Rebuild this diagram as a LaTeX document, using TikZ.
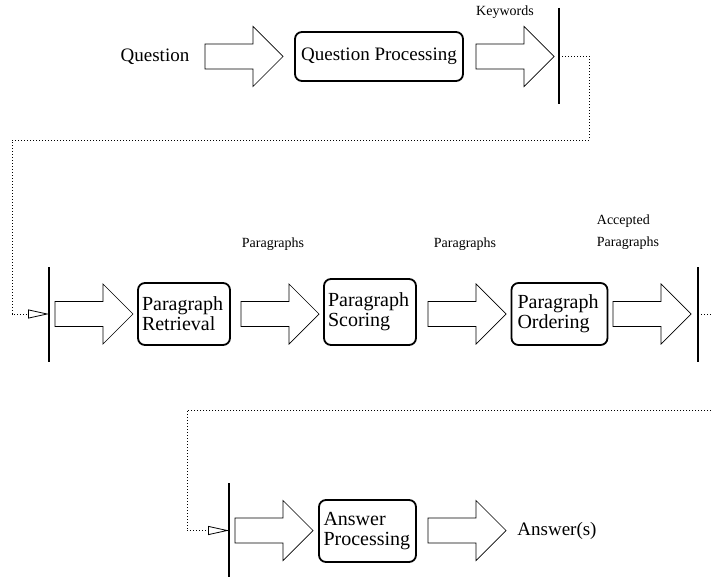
\documentclass[tikz,border=0pt]{standalone}
\usepackage{fontspec}
\setmainfont{Liberation Serif}
\usetikzlibrary{arrows.meta}
\tikzset{
  procbox/.style={draw, line width=1.8pt, rounded corners=7pt, align=left, inner sep=0pt, font=\rmfamily\fontsize{20}{20}\selectfont},
  bigtext/.style={font=\rmfamily\fontsize{19}{21}\selectfont, inner sep=0pt},
  smalltext/.style={font=\rmfamily\fontsize{14}{22}\selectfont, inner sep=0pt, align=left},
  bar/.style={line width=1.2pt},
  flow/.style={line width=0.7pt, dash pattern=on 0.8pt off 2.2pt},
  opentip/.style={-{Triangle[open, length=21pt, width=9pt, line width=0.8pt]}},
  blockarrow/.pic={
    \draw[line width=0.7pt] (0,-12.5) -- (48,-12.5) -- (48,-30) -- (78,0) -- (48,30) -- (48,12.5) -- (0,12.5) -- cycle;
    \coordinate (-tail) at (0,0);
    \coordinate (-tip) at (78,0);
  }
}
\begin{document}
\begin{tikzpicture}[x=1pt,y=-1pt]
\useasboundingbox (0,0) rectangle (711,577);

% Row 1
\node[bigtext] (question) at (155,57) {Question};
\pic (a1) at (205,56.5) {blockarrow};
\node[procbox, minimum width=168pt, minimum height=49pt, align=center, font=\rmfamily\fontsize{19}{21}\selectfont] (qp) at (379,56.5) {Question Processing};
\pic (a2) at (476,56.5) {blockarrow};
\node[smalltext] (kw) at (505,12) {Keywords};
\coordinate (b1t) at (559,8);
\coordinate (b1b) at (559,104);
\draw[bar] (b1t) -- (b1b);
\coordinate (b1m) at (559,56.5);

% Row 2
\coordinate (b2t) at (49,267);
\coordinate (b2b) at (49,362);
\draw[bar] (b2t) -- (b2b);
\coordinate (b2m) at (49,314);
\pic (a3) at (55,314) {blockarrow};
\node[procbox, minimum width=92pt, minimum height=62pt, text width=84pt] (pr) at (184,314) {Paragraph\\Retrieval};
\pic (a4) at (241,314) {blockarrow};
\node[smalltext] (p1) at (273,244) {Paragraphs};
\node[procbox, minimum width=92pt, minimum height=66pt, text width=84pt] (ps) at (370,312) {Paragraph\\Scoring};
\pic (a5) at (428,314) {blockarrow};
\node[smalltext] (p2) at (465,244) {Paragraphs};
\node[procbox, minimum width=96pt, minimum height=62pt, text width=84pt] (po) at (559.5,314) {Paragraph\\Ordering};
\pic (a6) at (613,314) {blockarrow};
\node[smalltext] (acc) at (628,232) {Accepted\\Paragraphs};
\coordinate (b3t) at (698,267);
\coordinate (b3b) at (698,362);
\draw[bar] (b3t) -- (b3b);
\coordinate (b3m) at (698,314);

% Row 3
\coordinate (b4t) at (229,483);
\coordinate (b4b) at (229,577);
\draw[bar] (b4t) -- (b4b);
\coordinate (b4m) at (229,530.5);
\pic (a7) at (235,530.5) {blockarrow};
\node[procbox, minimum width=97pt, minimum height=62pt, text width=88pt] (ap) at (367.5,531) {Answer\\Processing};
\pic (a8) at (428,530.5) {blockarrow};
\node[bigtext] (ans) at (557,531) {Answer(s)};

% Dotted flow lines
\draw[flow, opentip] (b1m) -- (589,56.5) -- (589,140) -- (12,140) |- (b2m);
\coordinate (e1) at (711,314);
\draw[flow] (b3m) -- (e1);
\coordinate (e2) at (711,410);
\draw[flow, opentip] (e2) -- (187,410) |- (b4m);
\end{tikzpicture}
\end{document}
